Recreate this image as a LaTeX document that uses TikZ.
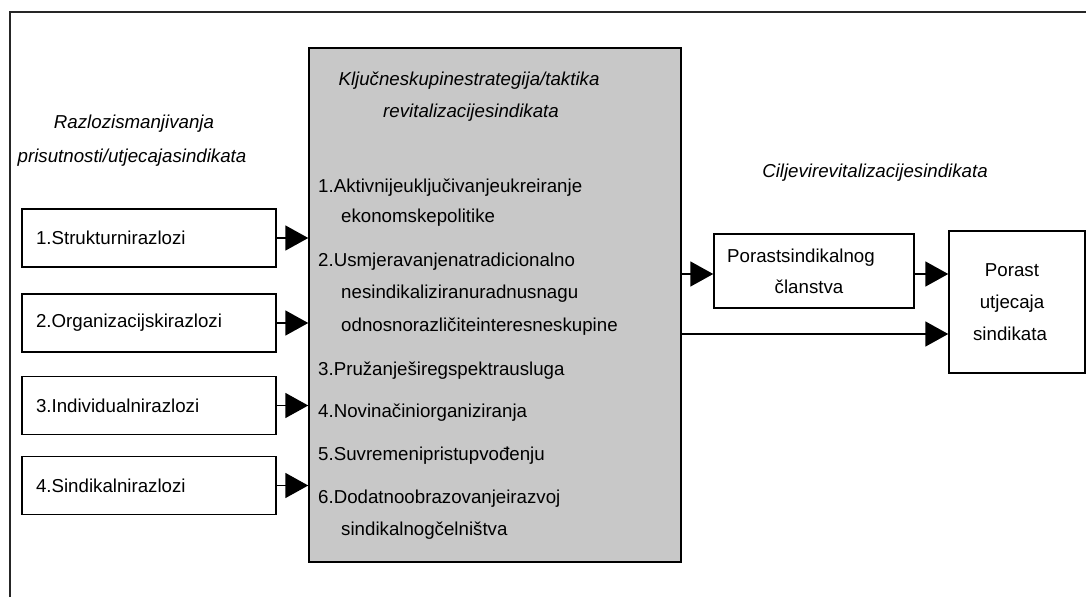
\documentclass[tikz,border=0pt]{standalone}
\usepackage{fontspec}
\setmainfont{Liberation Sans}
\usetikzlibrary{arrows.meta}
\definecolor{boxgray}{RGB}{200,200,200}
\tikzset{
  txt/.style={font=\fontsize{18.7}{22}\selectfont, inner sep=0pt, anchor=base west},
  ctxt/.style={font=\fontsize{18.7}{22}\selectfont, inner sep=0pt, anchor=base},
  itxt/.style={font=\fontsize{18.7}{22}\selectfont\itshape, inner sep=0pt, anchor=base},
  reason/.style={draw, line width=1.5pt, minimum width=254pt, minimum height=58pt, text width=226pt, inner xsep=14pt, align=left, font=\fontsize{18.7}{22}\selectfont},
  goalbox/.style={draw, line width=1.5pt, inner sep=0pt},
  arr/.style={line width=1.8pt, -{Triangle[length=23pt,width=25pt]}},
  frame/.style={line width=1.4pt, draw=black!85}
}
\begin{document}
\begin{tikzpicture}[x=1pt,y=-1pt]
\useasboundingbox (0,0) rectangle (1086,597);
% outer frame (cropped)
\draw[frame] (10,597) -- (10,12) -- (1086,12);

% left heading
\node[itxt] (lh1) at (134,128) {Razlozismanjivanja};
\node[itxt] (lh2) at (132,162) {prisutnosti/utjecajasindikata};

% left boxes
\node[reason] (b1) at (149,238) {1.Strukturnirazlozi};
\node[reason] (b2) at (149,323) {2.Organizacijskirazlozi};
\node[reason] (b3) at (149,405.5) {3.Individualnirazlozi};
\node[reason] (b4) at (149,485.5) {4.Sindikalnirazlozi};

% strategy box
\node[draw, line width=1.5pt, fill=boxgray, minimum width=372pt, minimum height=514pt, inner sep=0pt] (strat) at (495,305) {};

\node[itxt] (st1) at (469,85) {Ključneskupinestrategija/taktika};
\node[itxt] (st2) at (471,117) {revitalizacijesindikata};

\node[txt] (i1a) at (318,192) {1.Aktivnijeuključivanjeukreiranje};
\node[txt] (i1b) at (341,222) {ekonomskepolitike};
\node[txt] (i2a) at (318,266) {2.Usmjeravanjenatradicionalno};
\node[txt] (i2b) at (341,298) {nesindikaliziranuradnusnagu};
\node[txt] (i2c) at (341,331) {odnosnorazličiteinteresneskupine};
\node[txt] (i3) at (318,375) {3.Pružanješiregspektrausluga};
\node[txt] (i4) at (318,417) {4.Novinačiniorganiziranja};
\node[txt] (i5) at (318,460) {5.Suvremenipristupvođenju};
\node[txt] (i6a) at (318,503) {6.Dodatnoobrazovanjeirazvoj};
\node[txt] (i6b) at (341,535) {sindikalnogčelništva};

% right heading
\node[itxt] (rh) at (875,177) {Ciljevirevitalizacijesindikata};

% goal boxes
\node[goalbox, minimum width=200pt, minimum height=74pt] (p1) at (814,271) {};
\node[ctxt] (p1a) at (801,262) {Porastsindikalnog};
\node[ctxt] (p1b) at (809,293) {članstva};

\node[goalbox, minimum width=136pt, minimum height=142pt] (p2) at (1017,302) {};
\node[ctxt] (p2a) at (1012,276) {Porast};
\node[ctxt] (p2b) at (1012,308) {utjecaja};
\node[ctxt] (p2c) at (1010,340) {sindikata};

% arrows into strategy box
\draw[arr] (b1.east) -- (b1.east -| strat.west);
\draw[arr] (b2.east) -- (b2.east -| strat.west);
\draw[arr] (b3.east) -- (b3.east -| strat.west);
\draw[arr] (b4.east) -- (b4.east -| strat.west);

% arrows to goals
\coordinate (upy) at (0,274);
\coordinate (lowy) at (0,334);
\draw[arr] (strat.east |- upy) -- (p1.west |- upy);
\draw[arr] (p1.east |- upy) -- (p2.west |- upy);
\draw[arr] (strat.east |- lowy) -- (p2.west |- lowy);
\end{tikzpicture}
\end{document}
